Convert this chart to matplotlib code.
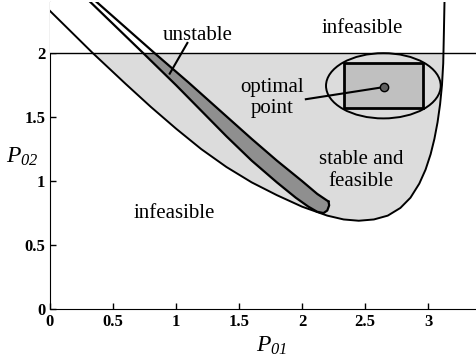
import matplotlib
matplotlib.use("Agg")
import matplotlib.pyplot as plt
from matplotlib.patches import Ellipse, Rectangle

# boundary of the feasible region
lower_x = [0.0, 0.34, 0.6, 0.8, 1.0, 1.2, 1.4, 1.6, 1.8, 2.0, 2.2, 2.33, 2.45, 2.57,
           2.68, 2.78, 2.86, 2.93, 2.98, 3.02, 3.05, 3.075, 3.095, 3.11, 3.12, 3.125, 3.13]
lower_y = [2.33, 2.0, 1.76, 1.58, 1.41, 1.25, 1.11, 0.99, 0.89, 0.80, 0.73, 0.70, 0.69, 0.70,
           0.73, 0.79, 0.87, 0.98, 1.09, 1.21, 1.33, 1.46, 1.60, 1.75, 1.92, 2.15, 2.4]

# unstable band, lower-left edge and upper-right edge
band_left_x = [0.32, 0.74, 1.0, 1.21, 1.4, 1.6, 1.8, 1.95, 2.05, 2.12]
band_left_y = [2.40, 2.0, 1.75, 1.54, 1.35, 1.16, 0.99, 0.87, 0.80, 0.76]
cap_x = [2.17, 2.20, 2.215]
cap_y = [0.75, 0.77, 0.81]
band_right_x = [0.37, 0.83, 1.1, 1.35, 1.6, 1.8, 2.0, 2.12, 2.21]
band_right_y = [2.40, 2.0, 1.77, 1.55, 1.33, 1.16, 1.00, 0.90, 0.84]

opt_point = (2.65, 1.735)
ell_center = (2.645, 1.745)
ell_w, ell_h = 0.91, 0.51
rect_x0, rect_y0, rect_w, rect_h = 2.33, 1.57, 0.63, 0.35

xticks = [0, 0.5, 1, 1.5, 2, 2.5, 3]
xticklabels = ["0", "0.5", "1", "1.5", "2", "2.5", "3"]
yticks = [0, 0.5, 1, 1.5, 2]
yticklabels = ["0", "0.5", "1", "1.5", "2"]

plt.rcParams["font.family"] = "Liberation Serif"
plt.rcParams["mathtext.fontset"] = "custom"
plt.rcParams["mathtext.it"] = "Liberation Serif:italic"
plt.rcParams["mathtext.rm"] = "Liberation Serif:italic"

fig = plt.figure(figsize=(4.76, 3.64), dpi=100)
ax = fig.add_axes([50/476, 55/364, 426/476, 307/364])

ax.fill(lower_x, lower_y, color="#dcdcdc", zorder=1, lw=0)
ax.fill(band_left_x + cap_x + band_right_x[::-1], band_left_y + cap_y + band_right_y[::-1],
        color="#8f8f8f", zorder=2, lw=0)
ax.axhspan(2.0, 2.4, color="white", zorder=3, lw=0)
ax.axhline(2.0, color="black", lw=1, zorder=4)

ax.plot(lower_x, lower_y, color="black", lw=1.4, zorder=5)
ax.plot(band_left_x + cap_x + band_right_x[-1:], band_left_y + cap_y + band_right_y[-1:],
        color="black", lw=1.6, zorder=5, solid_joinstyle="round")
ax.plot(band_right_x, band_right_y, color="black", lw=1.6, zorder=5)

ax.add_patch(Rectangle((rect_x0, rect_y0), rect_w, rect_h, fc="#c0c0c0", ec="black", lw=2, zorder=5))
ax.add_patch(Ellipse(ell_center, ell_w, ell_h, fill=False, ec="black", lw=1.4, zorder=6))
ax.plot([2.03, opt_point[0]], [1.64, opt_point[1]], color="black", lw=1.5, zorder=6)
ax.plot(*opt_point, "o", ms=6, mfc="#606060", mec="black", mew=1, zorder=7)
ax.plot([1.09, 0.95], [2.08, 1.84], color="black", lw=1.5, zorder=6)

fs = 15
ax.text(2.48, 2.19, "infeasible", fontsize=fs, ha="center", va="center", zorder=8)
ax.text(0.99, 0.75, "infeasible", fontsize=fs, ha="center", va="center", zorder=8)
ax.text(1.17, 2.14, "unstable", fontsize=fs, ha="center", va="center", zorder=8)
ax.text(1.76, 1.65, "optimal\npoint", fontsize=fs, ha="center", va="center", zorder=8)
ax.text(2.47, 1.08, "stable and\nfeasible", fontsize=fs, ha="center", va="center", zorder=8)

ax.set_xlim(0, 3.38)
ax.set_ylim(0, 2.4)
ax.set_xticks(xticks)
ax.set_xticklabels(xticklabels, fontweight="bold", fontsize=12, fontfamily="Liberation Serif")
ax.set_yticks(yticks)
ax.set_yticklabels(yticklabels, fontweight="bold", fontsize=12, fontfamily="Liberation Serif")
ax.tick_params(direction="in", length=4, width=1)
ax.spines["top"].set_visible(False)
ax.spines["right"].set_visible(False)

ax.set_xlabel("$P_{01}$", fontsize=17)
ax.xaxis.set_label_coords(0.52, -0.085)
ax.set_ylabel("$P_{02}$", fontsize=17, rotation=0, ha="center", va="center")
ax.yaxis.set_label_coords(-0.065, 0.495)

fig.savefig("out.png", dpi=100)
